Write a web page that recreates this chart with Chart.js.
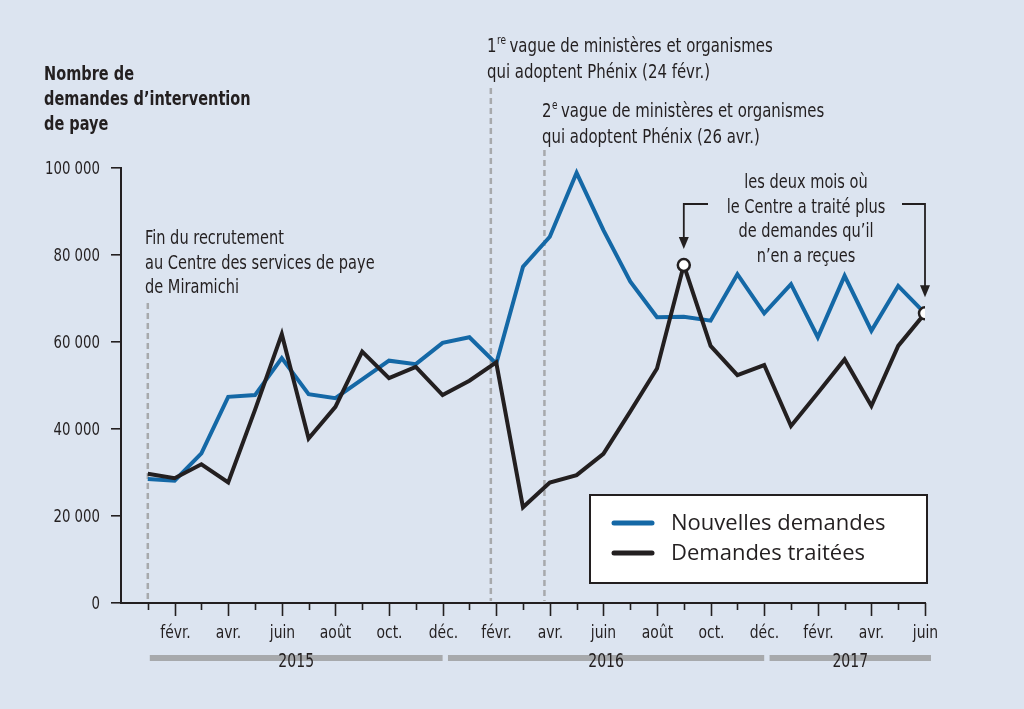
<!DOCTYPE html>
<html>
<head>
<meta charset="utf-8">
<script src="https://cdn.jsdelivr.net/npm/chart.js@4.4.1/dist/chart.umd.min.js"></script>
<style>
  html, body { margin: 0; padding: 0; background: #dce4f0; }
  #wrap { width: 1024px; height: 709px; }
</style>
</head>
<body>
<div id="wrap"><canvas id="chart" width="1024" height="709"></canvas></div>
<script>
// months from janv. 2015 to juin 2017
const months = [
  "janv.", "févr.", "mars", "avr.", "mai", "juin", "juil.", "août", "sept.", "oct.", "nov.", "déc.",
  "janv.", "févr.", "mars", "avr.", "mai", "juin", "juil.", "août", "sept.", "oct.", "nov.", "déc.",
  "janv.", "févr.", "mars", "avr.", "mai", "juin"
];
const years = ["2015", "2016", "2017"];

const nouvellesDemandes = [
  28500, 28100, 34400, 47400, 47800, 56300, 48000, 47100, 51400, 55700, 54900, 59800,
  61100, 55000, 77300, 84200, 98900, 85700, 73900, 65700, 65800, 64900, 75600, 66600,
  73300, 61100, 75200, 62600, 72900, 66600
];
const demandesTraitees = [
  29700, 28700, 31900, 27700, 44400, 61800, 37800, 45100, 57800, 51700, 54300, 47800,
  51100, 55300, 22000, 27700, 29400, 34300, 44000, 53900, 77700, 59100, 52400, 54700,
  40700, 48300, 56000, 45300, 59100, 66600
];

const yTickValues = [0, 20000, 40000, 60000, 80000, 100000];
const highlightMonths = [20, 29];          // mois où traitées >= reçues
const eventMonths = [0, 12.8, 14.8];       // fin recrutement, 1re vague, 2e vague

const BG = "#dce4f0";
const INK = "#231f20";
const BLUE = "#1468a6";
const COND = "'DejaVu Sans Condensed', 'Liberation Sans Narrow', sans-serif";
const REG = "'Open Sans', 'Noto Sans', sans-serif";

function fmt(v) {
  return String(v).replace(/\B(?=(\d{3})+(?!\d))/g, " ");
}

// narrow text: the original uses a condensed face, so squeeze horizontally
function txt(ctx, s, x, y, font, sx, align, base) {
  ctx.save();
  ctx.font = font;
  ctx.textAlign = align || "left";
  ctx.textBaseline = base || "alphabetic";
  ctx.translate(x, y);
  ctx.scale(sx, 1);
  ctx.fillText(s, 0, 0);
  ctx.restore();
}
function txtWidth(ctx, s, font, sx) {
  ctx.save();
  ctx.font = font;
  const w = ctx.measureText(s).width * sx;
  ctx.restore();
  return w;
}

const decor = {
  id: "decor",
  beforeDraw(chart) {
    const ctx = chart.ctx;
    ctx.save();
    ctx.fillStyle = BG;
    ctx.fillRect(0, 0, chart.width, chart.height);
    ctx.restore();
  },
  beforeDatasetsDraw(chart) {
    const ctx = chart.ctx;
    const x = chart.scales.x, y = chart.scales.y;
    const tops = [303, 88, 150];
    ctx.save();
    ctx.strokeStyle = "#a7a9ac";
    ctx.lineWidth = 2.5;
    ctx.setLineDash([6, 4]);
    eventMonths.forEach((m, i) => {
      const px = x.getPixelForValue(m);
      ctx.beginPath();
      ctx.moveTo(px, tops[i]);
      ctx.lineTo(px, y.bottom - 2);
      ctx.stroke();
    });
    ctx.restore();
  },
  afterDraw(chart) {
    const ctx = chart.ctx;
    const x = chart.scales.x, y = chart.scales.y;
    ctx.save();
    ctx.fillStyle = INK;
    ctx.strokeStyle = INK;

    // x tick marks and labels
    ctx.lineWidth = 1.6;
    months.forEach((m, i) => {
      const px = Math.round(x.getPixelForValue(i)) + 0.5;
      const len = i % 2 === 1 ? 13 : 7;
      ctx.beginPath();
      ctx.moveTo(px, y.bottom);
      ctx.lineTo(px, y.bottom + len);
      ctx.stroke();
      if (i % 2 === 1) txt(ctx, m, px, 638, "18px " + COND, 0.86, "center");
    });

    // y tick labels
    yTickValues.forEach((v) => {
      txt(ctx, fmt(v), 100, y.getPixelForValue(v) + 1, "18.5px " + COND, 0.8, "right", "middle");
    });

    // titre de l'axe
    ["Nombre de", "demandes d\u2019intervention", "de paye"].forEach((t, i) => {
      txt(ctx, t, 44, 80 + i * 25, "bold 19px " + COND, 0.85);
    });

    // annotations
    const AF = "20px " + COND, AS = 0.81, TS = 0.83;
    ["Fin du recrutement", "au Centre des services de paye", "de Miramichi"].forEach((t, i) => {
      txt(ctx, t, 145, 244 + i * 24.5, AF, AS);
    });

    function sup(num, s, rest, px, py) {
      txt(ctx, num, px, py, AF, TS);
      let w = txtWidth(ctx, num, AF, TS);
      txt(ctx, s, px + w + 0.5, py - 8, "12px " + COND, TS);
      w += txtWidth(ctx, s, "12px " + COND, TS) + 4;
      txt(ctx, rest, px + w, py, AF, TS);
    }
    sup("1", "re", "vague de ministères et organismes", 487, 52);
    txt(ctx, "qui adoptent Phénix (24 févr.)", 487, 78, AF, TS);
    sup("2", "e", "vague de ministères et organismes", 542, 117);
    txt(ctx, "qui adoptent Phénix (26 avr.)", 542, 143, AF, TS);

    ["les deux mois où", "le Centre a traité plus", "de demandes qu\u2019il", "n\u2019en a reçues"].forEach((t, i) => {
      txt(ctx, t, 806, 188 + i * 24.7, AF, AS, "center");
    });

    // flèches vers les mois mis en évidence
    ctx.lineWidth = 1.8;
    const hy = 204;
    const ends = [708, 902];
    highlightMonths.forEach((m, i) => {
      const px = x.getPixelForValue(m);
      const py = y.getPixelForValue(demandesTraitees[m]) - 16;
      ctx.beginPath();
      ctx.moveTo(ends[i], hy);
      ctx.lineTo(px, hy);
      ctx.lineTo(px, py - 10);
      ctx.stroke();
      ctx.beginPath();
      ctx.moveTo(px - 5, py - 12);
      ctx.lineTo(px + 5, py - 12);
      ctx.lineTo(px, py);
      ctx.closePath();
      ctx.fill();
    });

    // barres des années
    const nYears = years.length;
    years.forEach((yr, k) => {
      const first = 12 * k;
      const last = Math.min(12 * k + 11, months.length - 1);
      const x0 = k === 0 ? x.getPixelForValue(first) + 2 : x.getPixelForValue(first - 0.8);
      const x1 = k === nYears - 1 ? x.getPixelForValue(last) + 6 : x.getPixelForValue(last);
      ctx.fillStyle = "#a7a9ac";
      ctx.fillRect(x0, 655, x1 - x0, 6);
      ctx.fillStyle = INK;
      txt(ctx, yr, (x0 + x1) / 2, 667, "20px " + COND, 0.78, "center");
    });

    // légende
    ctx.fillStyle = "#ffffff";
    ctx.fillRect(590, 495, 337, 88);
    ctx.lineWidth = 2;
    ctx.strokeRect(590, 495, 337, 88);
    ctx.lineCap = "round";
    chart.data.datasets.forEach((ds, i) => {
      const ly = 523 + i * 30;
      ctx.strokeStyle = ds.borderColor;
      ctx.lineWidth = 5;
      ctx.beginPath();
      ctx.moveTo(614, ly);
      ctx.lineTo(652, ly);
      ctx.stroke();
      ctx.fillStyle = INK;
      txt(ctx, ds.label, 671, ly + 1, "22px " + REG, 1, "left", "middle");
    });
    ctx.restore();
  }
};

new Chart(document.getElementById("chart"), {
  type: "line",
  data: {
    datasets: [
      {
        label: "Nouvelles demandes",
        data: nouvellesDemandes.map((v, i) => ({ x: i, y: v })),
        borderColor: BLUE,
        borderWidth: 4,
        pointRadius: 0,
        tension: 0,
        order: 1
      },
      {
        label: "Demandes traitées",
        data: demandesTraitees.map((v, i) => ({ x: i, y: v })),
        borderColor: INK,
        borderWidth: 4,
        tension: 0,
        order: 0,
        pointRadius: (c) => highlightMonths.includes(c.dataIndex) ? 6 : 0,
        pointBackgroundColor: "#ffffff",
        pointBorderColor: INK,
        pointBorderWidth: 2.5
      }
    ]
  },
  options: {
    responsive: false,
    animation: false,
    devicePixelRatio: 1,
    layout: { padding: { top: 168, right: 99, left: 0, bottom: 0 } },
    plugins: { legend: { display: false }, tooltip: { enabled: false } },
    scales: {
      x: {
        type: "linear",
        min: -1,
        max: 29,
        afterFit: (s) => { s.height = 106; },
        border: { display: true, color: INK, width: 2 },
        grid: { display: false },
        ticks: { display: false }
      },
      y: {
        min: 0,
        max: 100000,
        afterFit: (s) => { s.width = 121; },
        afterBuildTicks: (s) => { s.ticks = yTickValues.map((v) => ({ value: v })); },
        border: { display: true, color: INK, width: 2 },
        grid: { drawOnChartArea: false, tickLength: 10, color: INK, lineWidth: 1.6 },
        ticks: { display: false }
      }
    }
  },
  plugins: [decor]
});
</script>
</body>
</html>
